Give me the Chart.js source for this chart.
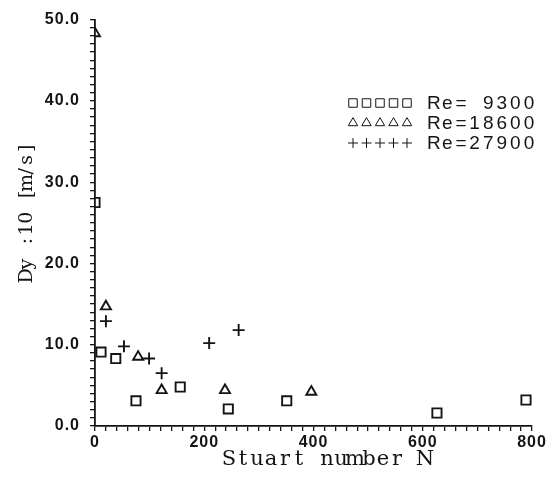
<!DOCTYPE html>
<html>
<head>
<meta charset="utf-8">
<script src="https://cdn.jsdelivr.net/npm/chart.js@4.4.1/dist/chart.umd.min.js"></script>
<style>
  html, body { margin: 0; padding: 0; background: #fff; }
  #wrap { width: 558px; height: 477px; position: relative; }
</style>
</head>
<body>
<div id="wrap"><canvas id="chart-stuart"></canvas></div>
<script>
// valores
const nRe9300  = [0, 11, 38, 75, 156, 244, 351, 626, 789];
const dyRe9300 = [27.5, 9.1, 8.3, 3.1, 4.8, 2.1, 3.1, 1.6, 3.2];

const nRe18600  = [0, 20, 79, 122, 238, 396];
const dyRe18600 = [48.3, 14.7, 8.5, 4.4, 4.4, 4.2];

const nRe27900  = [20, 53, 99, 122, 209, 263];
const dyRe27900 = [12.9, 9.8, 8.3, 6.5, 10.2, 11.8];

const legendLabels = ['Re= 9300', 'Re=18600', 'Re=27900'];
const legendStyles = ['rect', 'triangle', 'cross'];

const xTitle = 'Stuart number N';
const yTitle = 'Dy :10 [m/s]';

const INK = '#141414';

const pts = (xs, ys) => xs.map((x, i) => ({ x, y: ys[i] }));

// texto com passo fixo (imita a fonte mono da figura)
function monoText(ctx, txt, x0, y, pitch) {
  for (let i = 0; i < txt.length; i++) {
    ctx.fillText(txt[i], x0 + pitch * i + pitch / 2, y);
  }
}

const figurePlugin = {
  id: 'figure',
  beforeDraw(chart) {
    chart.ctx.letterSpacing = '1px';
  },
  afterDraw(chart) {
    const ctx = chart.ctx;
    ctx.save();
    ctx.letterSpacing = '0px';
    ctx.fillStyle = INK;
    ctx.textAlign = 'center';
    ctx.textBaseline = 'middle';

    // titulo eixo x
    ctx.font = '21px "DejaVu Serif"';
    const px = 14;
    monoText(ctx, xTitle, 327 - px * xTitle.length / 2, 460, px);

    // titulo eixo y (rotacionado)
    ctx.save();
    ctx.translate(27, 212);
    ctx.rotate(-Math.PI / 2);
    ctx.font = '19px "DejaVu Serif"';
    const py = 11.6;
    monoText(ctx, yTitle, -py * yTitle.length / 2, 0, py);
    ctx.restore();

    // legenda
    ctx.font = '19px "Liberation Sans", Arial, sans-serif';
    legendLabels.forEach((lbl, r) => {
      const y = 103 + r * 20;
      ctx.save();
      ctx.fillStyle = 'rgba(0,0,0,0)';
      ctx.strokeStyle = INK;
      for (let k = 0; k < 5; k++) {
        Chart.helpers.drawPoint(ctx, {
          pointStyle: legendStyles[r],
          radius: legendStyles[r] === 'cross' ? 5 : (legendStyles[r] === 'rect' ? 6 : 5.4),
          rotation: 0,
          borderWidth: 2
        }, 353 + k * 13.5, y);
      }
      ctx.restore();
      ctx.fillStyle = INK;
      monoText(ctx, lbl, 427, y + 1, 13.6);
    });
    ctx.restore();
  }
};

const serie = (label, data, style, radius) => ({
  label,
  data,
  pointStyle: style,
  pointRadius: radius,
  pointHoverRadius: radius,
  pointBorderWidth: 1.9,
  pointBorderColor: INK,
  pointBackgroundColor: 'rgba(0,0,0,0)',
  showLine: false
});

const tickFont = { family: '"Liberation Sans", Arial, sans-serif', size: 16, weight: 'bold' };

new Chart(document.getElementById('chart-stuart'), {
  type: 'scatter',
  data: {
    datasets: [
      serie('Re= 9300', pts(nRe9300, dyRe9300), 'rect', 6.5),
      serie('Re=18600', pts(nRe18600, dyRe18600), 'triangle', 5.8),
      serie('Re=27900', pts(nRe27900, dyRe27900), 'cross', 6)
    ]
  },
  options: {
    responsive: true,
    maintainAspectRatio: false,
    animation: false,
    layout: { padding: { top: 18, right: 26, left: 0, bottom: 0 } },
    plugins: {
      legend: { display: false },
      tooltip: { enabled: false }
    },
    scales: {
      x: {
        type: 'linear',
        min: 0,
        max: 800,
        afterFit: s => { s.height = 51; },
        border: { display: true, color: INK, width: 1.8 },
        grid: { drawOnChartArea: false, drawTicks: true, tickLength: 5, color: INK, lineWidth: 1.3 },
        ticks: {
          stepSize: 20,
          autoSkip: false,
          maxRotation: 0,
          padding: 2,
          color: INK,
          font: tickFont,
          callback: v => (v % 200 === 0 ? String(v) : '')
        }
      },
      y: {
        type: 'linear',
        min: 0,
        max: 50,
        afterFit: s => { s.width = 95; },
        border: { display: true, color: INK, width: 1.8 },
        grid: { drawOnChartArea: false, drawTicks: true, tickLength: 5, color: INK, lineWidth: 1.3 },
        ticks: {
          stepSize: 1,
          autoSkip: false,
          padding: 10,
          color: INK,
          font: tickFont,
          callback: v => (v % 10 === 0 ? v.toFixed(1) : '')
        }
      }
    }
  },
  plugins: [figurePlugin]
});
</script>
</body>
</html>
